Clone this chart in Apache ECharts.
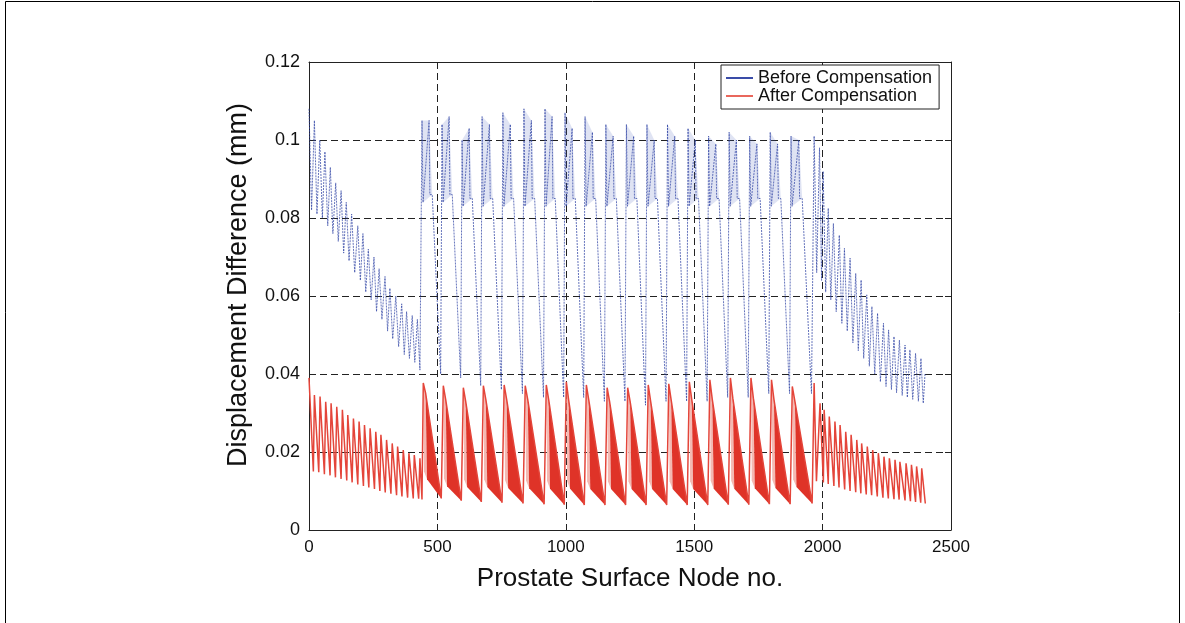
<!DOCTYPE html>
<html><head><meta charset="utf-8">
<script src="https://cdn.jsdelivr.net/npm/echarts@6/dist/echarts.min.js"></script>
<style>html,body{margin:0;padding:0;background:#fff}#c{width:1185px;height:623px}</style>
</head><body><div id="c"></div>
<script>
// ---------- data ----------
const xTicks = [0, 500, 1000, 1500, 2000, 2500];
const yTicks = [0, 0.02, 0.04, 0.06, 0.08, 0.1, 0.12];

// left zone (nodes 0-430): tooth peaks / troughs
const blueLeft = [[0,0.108],[10,0.082],[21,0.105],[31,0.081],[42,0.100],[52,0.080],[62,0.097],[73,0.078],[83,0.093],[93,0.076],[104,0.089],[114,0.074],[125,0.087],[135,0.071],[145,0.084],[156,0.069],[166,0.081],[178,0.066],[190,0.078],[200,0.064],[210,0.076],[221,0.061],[231,0.072],[242,0.059],[253,0.070],[263,0.056],[273,0.067],[284,0.054],[296,0.065],[306,0.051],[315,0.062],[326,0.049],[338,0.060],[349,0.047],[361,0.058],[371,0.045],[380,0.056],[391,0.044],[402,0.055],[412,0.043],[422,0.054],[432,0.041]];
const redLeft = [[0,0.039],[17,0.0150],[21,0.0346],[38,0.0148],[43,0.0342],[60,0.0143],[65,0.0329],[82,0.0140],[86,0.0325],[103,0.0135],[108,0.0316],[125,0.0131],[130,0.0308],[147,0.0127],[151,0.0295],[168,0.0122],[173,0.0286],[190,0.0117],[195,0.0278],[212,0.0113],[216,0.0269],[233,0.0109],[238,0.0261],[255,0.0105],[260,0.0252],[276,0.0100],[280,0.0244],[297,0.0096],[302,0.0231],[319,0.0093],[324,0.0222],[341,0.0089],[345,0.0214],[362,0.0086],[367,0.0205],[384,0.0083],[389,0.0197],[406,0.0081],[410,0.0192],[427,0.0080],[432,0.0184],[440,0.0078]];

// middle zone: one entry per large saw-tooth cycle
const cycX      = [444, 522, 600, 678, 759, 841, 923, 1001, 1079, 1160, 1240, 1320, 1400, 1480, 1560, 1640, 1720, 1800, 1881];
const cycLastX  = 1967;
const bluePeakA = [0.105, 0.104, 0.100, 0.106, 0.107, 0.108, 0.108, 0.107, 0.106, 0.104, 0.104, 0.104, 0.104, 0.103, 0.101, 0.102, 0.101, 0.102, 0.101];
const bluePeakB = [0.105, 0.106, 0.103, 0.104, 0.104, 0.105, 0.106, 0.103, 0.102, 0.101, 0.101, 0.100, 0.101, 0.100, 0.099, 0.100, 0.099, 0.099, 0.100];
const blueBand  = [0.084, 0.084, 0.083, 0.083, 0.083, 0.083, 0.083, 0.083, 0.083, 0.083, 0.083, 0.083, 0.083, 0.083, 0.083, 0.083, 0.083, 0.083, 0.083];
const blueLow   = [0.040, 0.039, 0.037, 0.036, 0.035, 0.034, 0.034, 0.034, 0.033, 0.033, 0.032, 0.033, 0.033, 0.033, 0.034, 0.034, 0.035, 0.035, 0.035];
const redPeak   = [0.0377, 0.0370, 0.0365, 0.0370, 0.0372, 0.0370, 0.0372, 0.0380, 0.0372, 0.0365, 0.0365, 0.0372, 0.0375, 0.0380, 0.0385, 0.0390, 0.0390, 0.0385, 0.0368];
const redTop    = [0.0351, 0.0335, 0.0330, 0.0335, 0.0335, 0.0335, 0.0335, 0.0333, 0.0333, 0.0330, 0.0330, 0.0330, 0.0333, 0.0335, 0.0335, 0.0338, 0.0338, 0.0335, 0.0330];
const redMid    = [0.0130, 0.0112, 0.0110, 0.0110, 0.0108, 0.0107, 0.0106, 0.0106, 0.0105, 0.0105, 0.0105, 0.0105, 0.0105, 0.0105, 0.0106, 0.0106, 0.0107, 0.0108, 0.0110];
const redLow    = [0.0081, 0.0075, 0.0072, 0.0070, 0.0068, 0.0066, 0.0065, 0.0064, 0.0064, 0.0064, 0.0064, 0.0064, 0.0064, 0.0064, 0.0065, 0.0065, 0.0066, 0.0066, 0.0068];

// right zone (nodes 1967-2400)
const blueRight = [[1967,0.101],[1977,0.066],[1988,0.098],[1996,0.064],[2002,0.092],[2012,0.061],[2022,0.0825],[2032,0.059],[2042,0.0786],[2053,0.056],[2065,0.0756],[2075,0.053],[2085,0.0722],[2096,0.051],[2107,0.0697],[2118,0.048],[2129,0.0658],[2139,0.046],[2150,0.0641],[2160,0.044],[2172,0.0603],[2182,0.042],[2192,0.0573],[2203,0.040],[2214,0.0556],[2225,0.038],[2237,0.0530],[2247,0.0368],[2257,0.0513],[2268,0.0360],[2278,0.0496],[2288,0.0352],[2299,0.0487],[2310,0.0345],[2321,0.0474],[2330,0.0340],[2340,0.0462],[2351,0.0335],[2362,0.0453],[2373,0.0330],[2383,0.0440],[2392,0.0325],[2399,0.0402]];
const redRight = [[1967,0.0377],[1976,0.0125],[1990,0.0325],[2003,0.0122],[2006,0.0308],[2022,0.0118],[2026,0.0291],[2044,0.0113],[2048,0.0278],[2064,0.0109],[2068,0.0269],[2086,0.0104],[2090,0.0252],[2107,0.0100],[2111,0.0244],[2129,0.0097],[2133,0.0231],[2149,0.0094],[2152,0.0222],[2170,0.0091],[2174,0.0214],[2191,0.0089],[2195,0.0205],[2213,0.0086],[2217,0.0197],[2235,0.0083],[2239,0.0188],[2256,0.0081],[2260,0.0184],[2278,0.0079],[2282,0.0180],[2298,0.0078],[2301,0.0175],[2321,0.0076],[2325,0.0171],[2342,0.0074],[2346,0.0167],[2362,0.0072],[2366,0.0163],[2382,0.0070],[2386,0.0158],[2400,0.0068]];

// ---------- build the paths ----------
const n = cycX.length;
const cycEnd = i => (i < n - 1 ? cycX[i + 1] : cycLastX);
const blueMid = [], redMidPath = [], redPoly = [], bluePoly = [];
for (let i = 0; i < n; i++) {
  const s = cycX[i], e = cycEnd(i), w = e - s;
  blueMid.push([s - 4, bluePeakA[i]], [s, blueBand[i]], [s + 0.33 * w - 2, bluePeakB[i]],
               [s + 0.33 * w + 1, blueBand[i] + 0.002], [s + 0.46 * w, blueBand[i] + 0.002], [s + 0.88 * w, blueLow[i]]);
  bluePoly.push([s, bluePeakA[i], e, blueBand[i], bluePeakB[i]]);
  redMidPath.push([s + 1, redPeak[i]], [s + 0.13 * w, redTop[i]], [s + 0.91 * w, redLow[i]]);
  redPoly.push([s, redTop[i], e, redLow[i], redMid[i], redPeak[i]]);
}
const blueAll = blueLeft.concat(blueMid, blueRight);
const redAll = redLeft.concat(redMidPath, redRight);

const FONT = "'Liberation Sans', Arial, Helvetica, sans-serif";
const chart = echarts.init(document.getElementById('c'), null, {renderer: 'canvas'});
const axisCommon = {
  type: 'value', axisLine: {show: true, onZero: false, lineStyle: {color: '#222', width: 1}},
  axisTick: {show: true, inside: true, length: 6, lineStyle: {color: '#222'}},
};
chart.setOption({
  animation: false,
  backgroundColor: '#fff',
  grid: {left: 309, top: 62, right: 234, bottom: 93, show: false},
  legend: {
    left: 721, top: 65, orient: 'vertical', itemGap: 0, itemWidth: 27, itemHeight: 2,
    padding: [4, 7, 4, 5], borderColor: '#222', borderWidth: 1, backgroundColor: '#fff',
    textStyle: {fontSize: 18, fontFamily: FONT, color: '#111', lineHeight: 17},
    data: [
      {name: 'Before Compensation', icon: 'rect', itemStyle: {color: '#3a4ca8'}},
      {name: 'After Compensation', icon: 'rect', itemStyle: {color: '#e9675c'}}
    ]
  },
  xAxis: [
    Object.assign({}, axisCommon, {
      min: 0, max: 2500, interval: 500, position: 'bottom',
      axisLabel: {fontSize: 17, color: '#111', margin: 9, fontFamily: FONT, formatter: v => String(v)},
      splitLine: {show: true, lineStyle: {color: '#222', type: [7, 4], width: 1}},
      name: 'Prostate Surface Node no.', nameLocation: 'middle', nameGap: 36,
      nameTextStyle: {fontSize: 26, color: '#111', fontFamily: FONT}
    }),
    Object.assign({}, axisCommon, {min: 0, max: 2500, interval: 500, position: 'top', axisLabel: {show: false}, splitLine: {show: false}})
  ],
  yAxis: [
    Object.assign({}, axisCommon, {
      min: 0, max: 0.12, interval: 0.02, position: 'left',
      axisLabel: {fontSize: 18, color: '#111', margin: 9, fontFamily: FONT, formatter: v => String(+v.toFixed(2))},
      splitLine: {show: true, lineStyle: {color: '#222', type: [7, 4], width: 1}},
      name: 'Displacement Difference (mm)', nameLocation: 'middle', nameGap: 57,
      nameTextStyle: {fontSize: 27, color: '#111', fontFamily: FONT, padding: [0, 0, 0, 22]}
    }),
    Object.assign({}, axisCommon, {min: 0, max: 0.12, interval: 0.02, position: 'right', axisLabel: {show: false}, splitLine: {show: false}})
  ],
  graphic: [{type: 'polyline', shape: {points: [[5.5, 623], [5.5, 1.5], [1179.5, 1.5], [1179.5, 623]]}, style: {stroke: '#000', lineWidth: 1, fill: null}, silent: true}],
  series: [
    {
      type: 'custom', name: 'blueBand', data: bluePoly, encode: {x: [0, 2], y: [1, 3]},
      renderItem: (p, api) => {
        const s = api.value(0), pa = api.value(1), e = api.value(2), b = api.value(3), pb = api.value(4), w = e - s;
        const c = (x, y) => api.coord([x, y]);
        return {type: 'polygon', shape: {points: [c(s - 4, pa), c(s + 0.33 * w - 2, pb), c(s + 0.46 * w, b + 0.002), c(s, b)]},
                style: {fill: 'rgba(80,100,190,0.18)'}};
      }
    },
    {
      type: 'line', name: 'Before Compensation', data: blueAll, showSymbol: false, symbol: 'none',
      lineStyle: {color: '#3246a6', width: 1, opacity: 0.75, type: [2, 1]}, itemStyle: {color: '#3a4ca8'}, z: 3
    },
    {
      type: 'custom', name: 'redFill', data: redPoly, encode: {x: [0, 2], y: [1, 3]}, z: 4,
      renderItem: (p, api) => {
        const s = api.value(0), top = api.value(1), e = api.value(2), low = api.value(3), mid = api.value(4), pk = api.value(5), w = e - s;
        const c = (x, y) => api.coord([x, y]);
        return {type: 'group', children: [
          {type: 'polygon', shape: {points: [c(s + 1, pk), c(s + 0.13 * w, top), c(s + 0.2 * w, mid), c(s + 0.05 * w, mid + 0.002)]}, style: {fill: '#f4b9b2'}},
          {type: 'polygon', shape: {points: [c(s + 0.13 * w, top), c(s + 0.91 * w, low), c(s + 0.2 * w, mid)]}, style: {fill: '#df3328'}}
        ]};
      }
    },
    {
      type: 'line', name: 'After Compensation', data: redAll, showSymbol: false, symbol: 'none',
      lineStyle: {color: '#e4453a', width: 1.5}, itemStyle: {color: '#e9675c'}, z: 5
    }
  ]
});
</script></body></html>
